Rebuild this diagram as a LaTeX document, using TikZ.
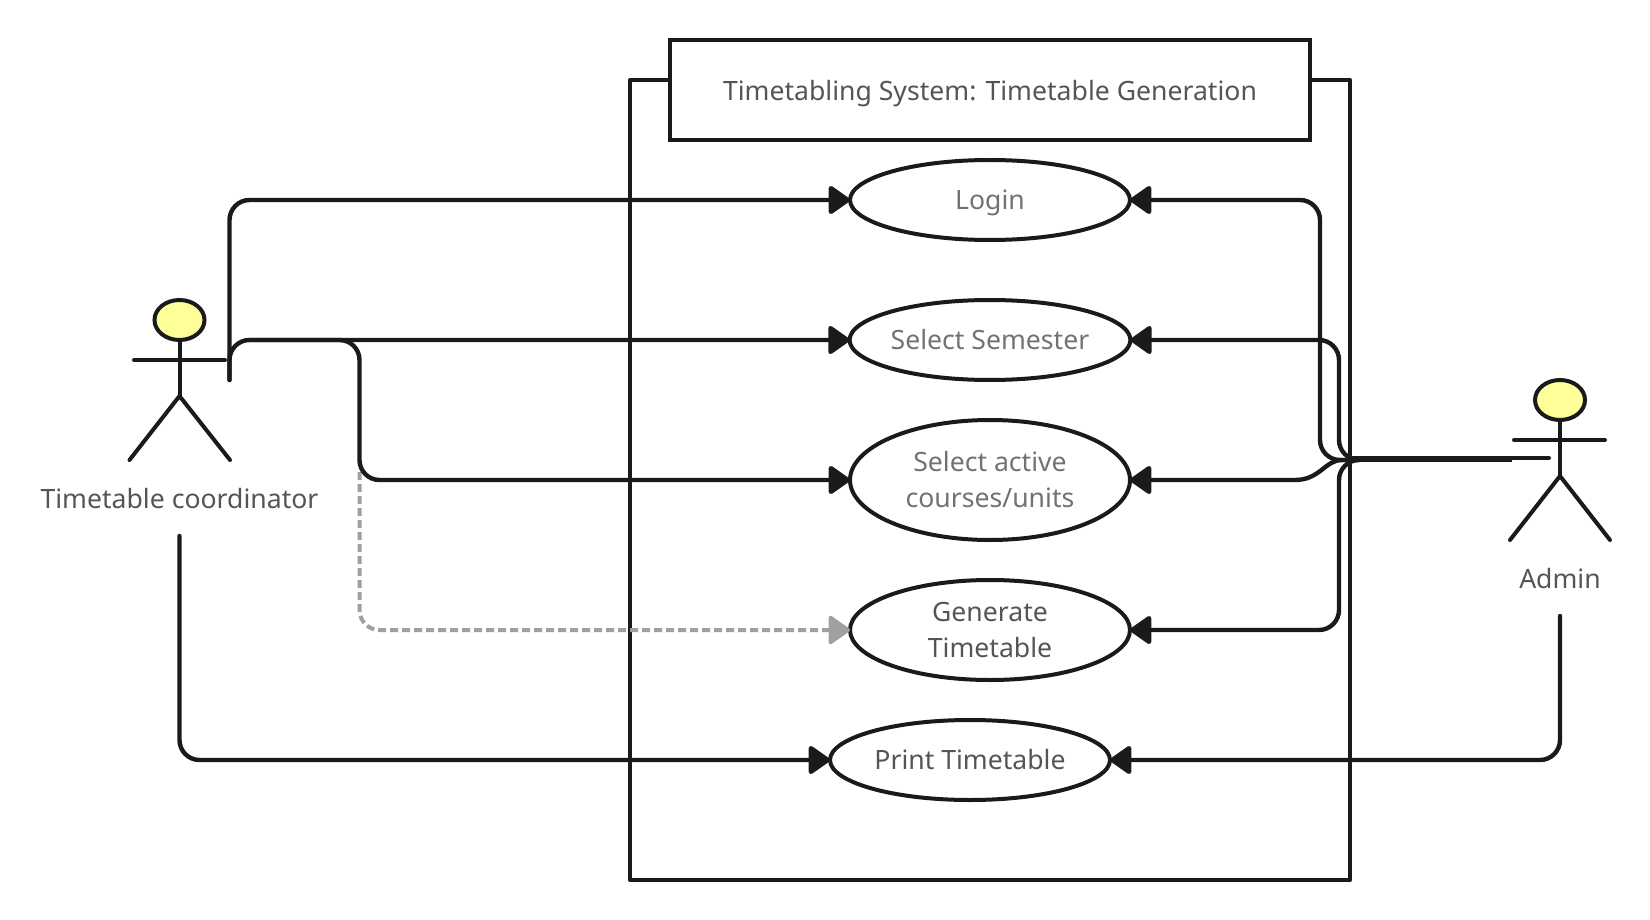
\documentclass[tikz,border=0pt]{standalone}
\usepackage{fontspec}
\setmainfont{Noto Sans}
\usetikzlibrary{arrows.meta,shapes.geometric}
\definecolor{ink}{HTML}{1A1A1A}
\definecolor{txt}{HTML}{555555}
\definecolor{txtl}{HTML}{727272}
\definecolor{dashc}{HTML}{A0A0A0}
\definecolor{headc}{HTML}{FFFF99}
\tikzset{
  tip/.tip={Triangle[length=23pt,width=31pt,round]},
  lbl/.style={text=txt,font=\fontsize{26.6}{36}\selectfont,align=center,inner sep=0pt},
  usecase/.style={ellipse,draw=ink,line width=4pt,fill=white,minimum width=280pt,inner sep=0pt,outer sep=0pt,text=txtl,font=\fontsize{26.6}{36}\selectfont,align=center},
  head/.style={ellipse,draw=ink,line width=4pt,fill=headc,minimum width=50pt,minimum height=40pt,inner sep=0pt,outer sep=0pt},
  limb/.style={draw=ink,line width=4pt,line cap=round},
  frame/.style={draw=ink,line width=4.2pt,line join=round},
  conn/.style={draw=ink,line width=4.4pt,rounded corners=20pt,line cap=round,-tip},
  dashconn/.style={draw=dashc,line width=4pt,dash pattern=on 8pt off 4pt,rounded corners=20pt,-tip},
}
\begin{document}
\begin{tikzpicture}[x=1pt,y=-1pt]
\useasboundingbox (0,0) rectangle (1650,920);
% system frame
\coordinate (fTL) at (630,80); \coordinate (fTR) at (1350,80);
\coordinate (fBL) at (630,880); \coordinate (fBR) at (1350,880);
\draw[frame] (fTL) -- (fBL) -- (fBR) -- (fTR) -- cycle;
\node[draw=ink,line width=4.2pt,fill=white,minimum width=640pt,minimum height=100pt,inner sep=0pt,outer sep=0pt,lbl,text=txt,text depth=0pt] (title) at (990,90) {Timetabling System: Timetable Generation};
% use cases
\node[usecase,minimum height=80pt,text depth=0pt] (login) at (990,200) {Login};
\node[usecase,minimum height=80pt] (sem) at (990,340) {Select Semester};
\node[usecase,minimum height=120pt] (active) at (990,480) {Select active\\courses/units};
\node[usecase,minimum height=100pt,text=txt] (gen) at (990,630) {Generate\\Timetable};
\node[usecase,minimum height=80pt,text=txt] (print) at (970,760) {Print Timetable};
% left actor
\node[head] (h1) at (179.5,320) {};
\coordinate (n1) at (179.5,396);
\coordinate (a1l) at (134,360); \coordinate (a1r) at (225,360);
\coordinate (l1l) at (129.5,460); \coordinate (l1r) at (230,460);
\draw[limb] (h1.south) -- (n1);
\draw[limb] (a1l) -- (a1r);
\draw[limb] (l1l) -- (n1) -- (l1r);
\node[lbl] (coord) at (179.5,498.7) {Timetable coordinator};
% right actor
\node[head] (h2) at (1560,400) {};
\coordinate (n2) at (1560,476);
\coordinate (a2l) at (1514,440); \coordinate (a2r) at (1605,440);
\coordinate (l2l) at (1510,540); \coordinate (l2r) at (1610,540);
\draw[limb] (h2.south) -- (n2);
\draw[limb] (a2l) -- (a2r);
\draw[limb] (l2l) -- (n2) -- (l2r);
\node[lbl] (admin) at (1560,578.7) {Admin};
% left connectors
\coordinate (s1) at (229.5,380);
\coordinate (s2) at (179.5,536);
\coordinate (s3) at (1560,616);
\coordinate (bus) at (359.5,340);
\coordinate (dstart) at (359.5,472);
\draw[dashconn] (dstart) -- (359.5,630) -- (gen.west);
\draw[conn] (s1) -- (229.5,200) -- (login.west);
\draw[conn] (s1) -- (229.5,340) -- (sem.west);
\draw[conn] (250,340) -- (bus) -- (359.5,480) -- (active.west);
\draw[conn] (s2) -- (179.5,760) -- (print.west);
\draw[conn] (s3) -- (1560,760) -- (print.east);
% right connectors
\coordinate (j) at (1350,460);
\coordinate (jup) at (1350,458);
\coordinate (aEnd) at (1549,458);
\coordinate (bEnd) at (1512,460);
\draw[draw=ink,line width=4pt,line cap=round] (jup) -- (aEnd);
\draw[draw=ink,line width=4pt] (j) -- (bEnd);
\draw[conn] (j) -- (1320,460) -- (1320,200) -- (login.east);
\draw[conn] (j) -- (1339,460) -- (1339,340) -- (sem.east);
\draw[conn,rounded corners=0pt] (j) -- (1342,460) .. controls (1325,460) and (1320,480) .. (1295,480) -- (active.east);
\draw[conn] (j) -- (1339,460) -- (1339,630) -- (gen.east);
\end{tikzpicture}
\end{document}
